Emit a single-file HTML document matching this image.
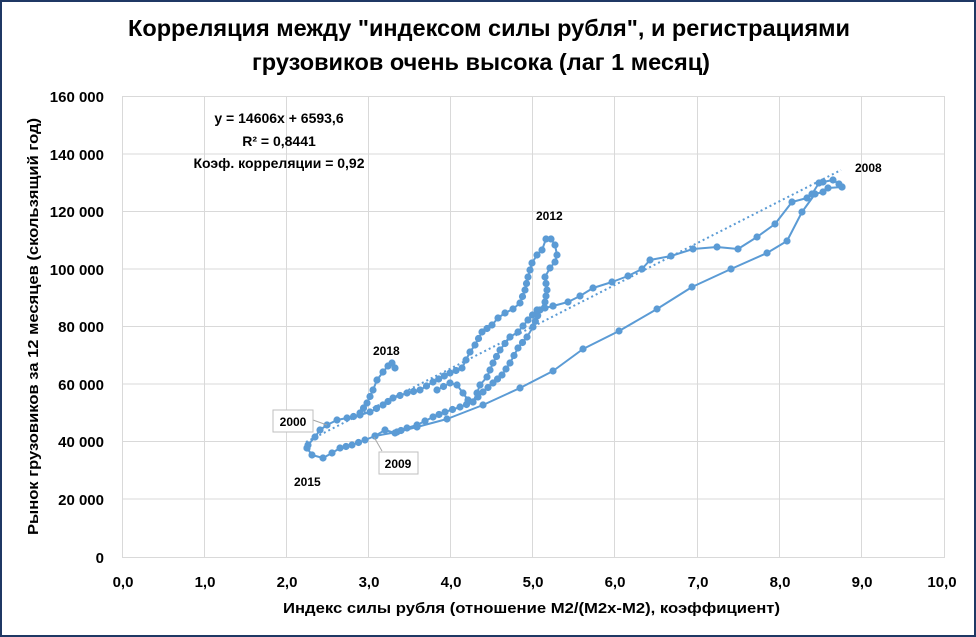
<!DOCTYPE html>
<html><head><meta charset="utf-8"><style>
html,body{margin:0;padding:0;background:#fff;}
svg{display:block;font-family:"Liberation Sans","DejaVu Sans",sans-serif;}
</style></head><body>
<svg id="s" width="976" height="637" viewBox="0 0 976 637" xmlns="http://www.w3.org/2000/svg">
<rect x="1" y="1" width="974" height="635" fill="#fff" stroke="#1f3864" stroke-width="2"/>
<text x="128" y="36" textLength="722" lengthAdjust="spacingAndGlyphs" font-size="23" font-weight="bold" fill="#000">Корреляция между "индексом силы рубля", и регистрациями</text>
<text x="252" y="70" textLength="458" lengthAdjust="spacingAndGlyphs" font-size="23" font-weight="bold" fill="#000">грузовиков очень высока (лаг 1 месяц)</text>
<g stroke="#d9d9d9" stroke-width="1" fill="none">
<path d="M122.5 96.5H944.5M122.5 154H944.5M122.5 211.5H944.5M122.5 269H944.5M122.5 326.5H944.5M122.5 384H944.5M122.5 441.5H944.5M122.5 499H944.5M122.5 557.5H944.5"/>
<path d="M122.5 96V558M204.5 96V558M286.5 96V558M368.5 96V558M450.5 96V558M532.5 96V558M614.5 96V558M697.5 96V558M779.5 96V558M861.5 96V558M944.5 96V558"/>
</g>
<g font-size="15" font-weight="bold" text-anchor="end" fill="#000">
<text x="104" y="102">160 000</text><text x="104" y="160">140 000</text><text x="104" y="217">120 000</text><text x="104" y="275">100 000</text><text x="104" y="332">80 000</text><text x="104" y="390">60 000</text><text x="104" y="447">40 000</text><text x="104" y="505">20 000</text><text x="104" y="563">0</text>
</g>
<g font-size="15" font-weight="bold" text-anchor="middle" fill="#000">
<text x="123" y="587">0,0</text><text x="205" y="587">1,0</text><text x="287" y="587">2,0</text><text x="369" y="587">3,0</text><text x="451" y="587">4,0</text><text x="533" y="587">5,0</text><text x="615" y="587">6,0</text><text x="698" y="587">7,0</text><text x="780" y="587">8,0</text><text x="862" y="587">9,0</text><text x="942" y="587">10,0</text>
</g>
<text x="283" y="613" textLength="497" lengthAdjust="spacingAndGlyphs" font-size="15" font-weight="bold">Индекс силы рубля (отношение М2/(М2х-М2), коэффициент)</text>
<text transform="translate(38,535) rotate(-90)" textLength="417" lengthAdjust="spacingAndGlyphs" font-size="15" font-weight="bold">Рынок грузовиков за 12 месяцев (скользящий год)</text>
<g font-size="14" font-weight="bold" text-anchor="middle">
<text x="279" y="123">y = 14606x + 6593,6</text>
<text x="279" y="146">R² = 0,8441</text>
<text x="279" y="168">Коэф. корреляции = 0,92</text>
</g>
<line x1="306" y1="442" x2="841" y2="170" stroke="#5b9bd5" stroke-width="2" stroke-dasharray="2,3"/>
<g id="series" fill="none" stroke="#5b9bd5" stroke-width="2" stroke-linejoin="round"></g>
<g font-size="12" font-weight="bold">
<text x="855" y="172">2008</text><text x="536" y="220">2012</text><text x="373" y="355">2018</text><text x="294" y="486">2015</text>
</g>
<line x1="313" y1="420" x2="327" y2="425" stroke="#a6a6a6"/>
<line x1="382" y1="451" x2="374" y2="437" stroke="#a6a6a6"/>
<rect x="273" y="410" width="40" height="22" fill="#fff" stroke="#bfbfbf"/>
<text x="293" y="426" text-anchor="middle" font-size="12" font-weight="bold">2000</text>
<rect x="379" y="452" width="39" height="22" fill="#fff" stroke="#bfbfbf"/>
<text x="398" y="468" text-anchor="middle" font-size="12" font-weight="bold">2009</text>
</svg>
<script>
var P=[
[1,"307,448 312,455 323,458 332,453 340,448 352,445 365,440 375,436 385,430 395,433 407,428 417,425 433,417 445,412 460,407 473,402 483,392 493,383 502,375 510,363 518,348 527,337 533,327 540,310 545,302 547,290 545,277 550,268 555,262 557,255 555,245 551,239 546,239 542,250 537,255 532,263 528,277 525,290 520,303 513,309 505,313 498,318 492,325 482,332 475,345 470,352 462,368 450,373 433,382 420,390 407,393 393,398 383,405 370,412 360,415 347,418 337,420 327,425 320,430 315,437 308,445 307,448"],
[1,"360,413 367,403 373,390 377,380 383,372 388,366 392,363 395,368"],
[1,"437,390 450,383 457,385 463,393 468,400 473,402 477,393 480,385 487,377 493,363 500,350 510,337 518,332 528,320 537,310 553,306"],
[0,"553,306 568,302 580,296 593,288 612,282 628,276 642,269 650,260 671,256 693,249 717,247 738,249 757,237 775,224 792,202 807,198 812,194 819,183 823,182 833,180 839,184 842,187"],
[0,"842,187 828,188 823,192 815,194 802,212 787,241 767,253 731,269 692,287 657,309 619,331 583,349 553,371 520,388 483,405 447,419 417,427 397,432 375,436"]
];
var g=document.getElementById('series'),ns='http://www.w3.org/2000/svg';
function dot(x,y){var c=document.createElementNS(ns,'circle');c.setAttribute('cx',x);c.setAttribute('cy',y);c.setAttribute('r','3.6');c.setAttribute('fill','#5b9bd5');c.setAttribute('stroke','none');g.appendChild(c);}
P.forEach(function(d){var s=d[1];var pl=document.createElementNS(ns,'polyline');pl.setAttribute('points',s);g.appendChild(pl);
var pts=s.split(' ').map(function(p){return p.split(',').map(Number);});
pts.forEach(function(a,i){dot(a[0],a[1]);
if(d[0]&&i>0){var b=pts[i-1],L=Math.hypot(a[0]-b[0],a[1]-b[1]);var n=Math.floor(L/6);for(var k=1;k<n;k++){dot(b[0]+(a[0]-b[0])*k/n,b[1]+(a[1]-b[1])*k/n);}}});});
</script>
</body></html>
